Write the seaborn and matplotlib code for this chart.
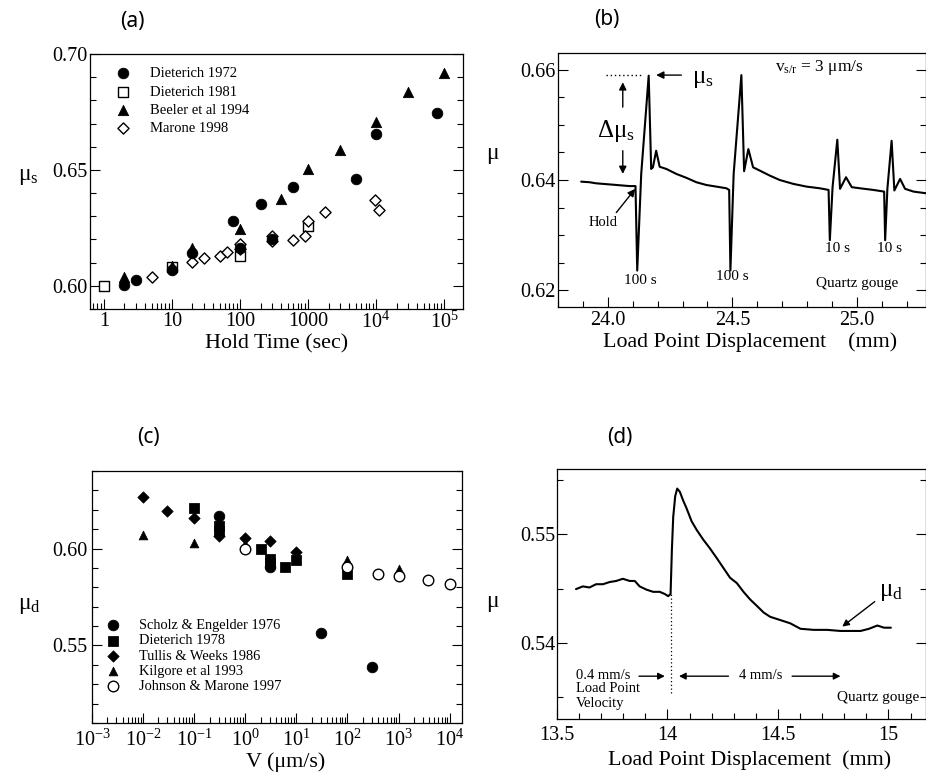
import matplotlib
matplotlib.use("Agg")
import matplotlib.pyplot as plt
import matplotlib.ticker as mticker
import seaborn as sns

# ---------------- data ----------------
# (a) static friction vs. hold time
hold_d72 = [2, 3, 10, 20, 80, 100, 200, 300, 600, 5000, 1e4, 8e4]
mus_d72 = [0.6004, 0.6026, 0.6070, 0.6141, 0.6278, 0.6163, 0.6354, 0.6202, 0.6426, 0.6462, 0.6657, 0.6745]
hold_d81 = [1, 10, 100, 1000]
mus_d81 = [0.6000, 0.6081, 0.6130, 0.6257]
hold_b94 = [2, 10, 20, 100, 400, 1000, 3000, 1e4, 3e4, 1e5]
mus_b94 = [0.6040, 0.6084, 0.6163, 0.6245, 0.6375, 0.6505, 0.6584, 0.6707, 0.6837, 0.6916]
hold_m98 = [5, 20, 30, 50, 65, 100, 100, 300, 300, 600, 900, 1000, 1800, 9500, 11000]
mus_m98 = [0.6040, 0.6101, 0.6120, 0.6130, 0.6144, 0.6182, 0.6159, 0.6216, 0.6192, 0.6199,
           0.6216, 0.6278, 0.6317, 0.6372, 0.6329]

# (b) slide-hold-slide friction record
disp_b = [23.893, 23.926, 23.953, 23.980, 24.007, 24.034, 24.060, 24.087, 24.111, 24.118,
          24.134, 24.164, 24.174, 24.181, 24.194, 24.208, 24.235, 24.275, 24.315, 24.355,
          24.395, 24.436, 24.476, 24.487, 24.492, 24.505, 24.536, 24.547, 24.564, 24.583,
          24.610, 24.650, 24.690, 24.744, 24.798, 24.851, 24.886, 24.891, 24.902, 24.921,
          24.932, 24.956, 24.979, 25.012, 25.066, 25.109, 25.113, 25.122, 25.139, 25.150,
          25.173, 25.193, 25.227, 25.277]
mu_b = [0.6397, 0.6396, 0.6394, 0.6393, 0.6392, 0.6391, 0.6390, 0.6389, 0.6389, 0.6236,
        0.6411, 0.6589, 0.6420, 0.6423, 0.6453, 0.6424, 0.6420, 0.6411, 0.6404, 0.6396,
        0.6391, 0.6388, 0.6385, 0.6382, 0.6236, 0.6411, 0.6590, 0.6416, 0.6456, 0.6423,
        0.6417, 0.6408, 0.6400, 0.6393, 0.6388, 0.6385, 0.6382, 0.6291, 0.6387, 0.6473,
        0.6384, 0.6405, 0.6387, 0.6385, 0.6382, 0.6379, 0.6291, 0.6384, 0.6471, 0.6381,
        0.6402, 0.6384, 0.6379, 0.6376]

# (c) dynamic friction vs. slip velocity
v_se76 = [0.3, 3, 30, 300]
mud_se76 = [0.6167, 0.5905, 0.5564, 0.5391]
v_d78 = [0.1, 0.3, 0.3, 2, 3, 3, 6, 10, 100]
mud_d78 = [0.6210, 0.6116, 0.6090, 0.6000, 0.5948, 0.5926, 0.5905, 0.5943, 0.5871]
v_tw86 = [0.01, 0.03, 0.1, 0.3, 1, 3, 10]
mud_tw86 = [0.6267, 0.6193, 0.6155, 0.6064, 0.6055, 0.6040, 0.5983]
v_k93 = [0.01, 0.1, 1, 100, 1000]
mud_k93 = [0.6069, 0.6026, 0.6022, 0.5940, 0.5897]
v_jm97 = [1, 100, 400, 1000, 3800, 1e4]
mud_jm97 = [0.5997, 0.5905, 0.5867, 0.5859, 0.5836, 0.5819]

# (d) velocity-step friction record
disp_d = [13.586, 13.617, 13.647, 13.677, 13.708, 13.738, 13.768, 13.798, 13.829, 13.852,
          13.874, 13.905, 13.935, 13.965, 13.988, 14.003, 14.014, 14.020, 14.026, 14.035,
          14.044, 14.056, 14.071, 14.086, 14.109, 14.132, 14.162, 14.192, 14.223, 14.253,
          14.283, 14.314, 14.344, 14.374, 14.405, 14.435, 14.465, 14.511, 14.556, 14.602,
          14.662, 14.723, 14.783, 14.829, 14.874, 14.912, 14.950, 14.980, 15.011]
mu_d = [0.54495, 0.5452, 0.5451, 0.5454, 0.5454, 0.5456, 0.5457, 0.5459, 0.5457, 0.5457,
        0.5452, 0.5449, 0.5447, 0.5447, 0.5445, 0.5443, 0.5445, 0.5486, 0.5516, 0.5535,
        0.5542, 0.5539, 0.5531, 0.5524, 0.5512, 0.5504, 0.5495, 0.5487, 0.5478, 0.5469,
        0.5460, 0.5455, 0.5447, 0.5440, 0.5434, 0.5428, 0.5424, 0.5421, 0.5418, 0.5413,
        0.5412, 0.5412, 0.5411, 0.5411, 0.5411, 0.5413, 0.5416, 0.5414, 0.5414]
step_disp = 14.015

hold_ticks = [1, 10, 100, 1000, 1e4, 1e5]
hold_ticklabels = ["1", "10", "100", "1000", "10$^{4}$", "10$^{5}$"]
v_ticks = [1e-3, 1e-2, 1e-1, 1, 10, 100, 1e3, 1e4]
v_ticklabels = ["10$^{-3}$", "10$^{-2}$", "10$^{-1}$", "10$^{0}$", "10$^{1}$",
                "10$^{2}$", "10$^{3}$", "10$^{4}$"]

# ---------------- style ----------------
sns.set_theme(style="ticks")
plt.rcParams.update({
    "font.family": ["Liberation Serif", "DejaVu Serif"],
    "mathtext.fontset": "custom",
    "mathtext.rm": "Liberation Serif",
    "mathtext.it": "Liberation Serif:italic",
    "mathtext.bf": "Liberation Serif:bold",
    "axes.edgecolor": "black",
    "axes.linewidth": 0.9,
    "text.color": "black",
    "axes.labelcolor": "black",
    "xtick.color": "black",
    "ytick.color": "black",
})

W, H = 926, 773
fig = plt.figure(figsize=(W / 100, H / 100), dpi=100)
fig.patch.set_facecolor("white")


def rect(l, t, r, b):
    return [l / W, 1 - b / H, (r - l) / W, (b - t) / H]


def style_axes(ax, xpad, ypad):
    ax.tick_params(which="both", direction="in", left=True, bottom=True, right=True,
                   top=False, labelsize=14.5, width=0.8)
    ax.tick_params(which="major", length=7)
    ax.tick_params(which="minor", length=4)
    ax.tick_params(axis="x", pad=xpad)
    ax.tick_params(axis="y", pad=ypad)


def set_labels(ax, xlabel, xpos, ylabel, ypos, xsize=15.8, ysize=17):
    ax.set_xlabel(xlabel, fontsize=xsize, va="center")
    ax.xaxis.set_label_coords(*xpos)
    ax.set_ylabel(ylabel, fontsize=ysize, rotation=0, va="center", ha="center")
    ax.yaxis.set_label_coords(*ypos)


panel_font = dict(family=["Noto Sans", "DejaVu Sans"], fontsize=15, ha="center", va="center")

# ---------------- (a) ----------------
ax_a = fig.add_axes(rect(90, 54, 463, 309))
sns.scatterplot(x=hold_d72, y=mus_d72, marker="o", color="black", edgecolor="black",
                s=58, label="Dieterich 1972", ax=ax_a, zorder=4)
sns.scatterplot(x=hold_d81, y=mus_d81, marker="s", color="white", edgecolor="black",
                linewidth=1.0, s=48, label="Dieterich 1981", ax=ax_a, zorder=3)
sns.scatterplot(x=hold_b94, y=mus_b94, marker="^", color="black", edgecolor="black",
                s=55, label="Beeler et al 1994", ax=ax_a, zorder=4)
sns.scatterplot(x=hold_m98, y=mus_m98, marker="D", color="white", edgecolor="black",
                linewidth=1.0, s=32, label="Marone 1998", ax=ax_a, zorder=3)
ax_a.set_xscale("log")
ax_a.set_xlim(0.622, 1.9e5)
ax_a.set_ylim(0.59, 0.70)
ax_a.xaxis.set_major_locator(mticker.FixedLocator(hold_ticks))
ax_a.xaxis.set_major_formatter(mticker.FixedFormatter(hold_ticklabels))
ax_a.xaxis.set_minor_locator(mticker.LogLocator(base=10, subs=range(2, 10), numticks=20))
ax_a.xaxis.set_minor_formatter(mticker.NullFormatter())
ax_a.yaxis.set_major_locator(mticker.FixedLocator([0.60, 0.65, 0.70]))
ax_a.yaxis.set_major_formatter(mticker.FormatStrFormatter("%.2f"))
ax_a.yaxis.set_minor_locator(mticker.MultipleLocator(0.01))
style_axes(ax_a, 2, 2)
ax_a.legend(loc="upper left", bbox_to_anchor=(0.069, 0.949), frameon=False, fontsize=10.5,
            borderpad=0, borderaxespad=0, handlelength=1.0, handletextpad=1.35,
            labelspacing=0.35)
set_labels(ax_a, "Hold Time (sec)", (0.5, -0.135),
           r"$\mathrm{\mu}_{\mathrm{s}}$", (-0.166, 0.52))
fig.text(132 / W, 1 - 22 / H, "(a)", **panel_font)

# ---------------- (b) ----------------
ax_b = fig.add_axes(rect(558, 53, 926, 307))
sns.lineplot(x=disp_b, y=mu_b, sort=False, estimator=None, color="black", lw=1.5, ax=ax_b)
ax_b.set_xlim(23.80, 25.277)
ax_b.set_ylim(0.617, 0.663)
ax_b.xaxis.set_major_locator(mticker.MultipleLocator(0.5))
ax_b.xaxis.set_major_formatter(mticker.FormatStrFormatter("%.1f"))
ax_b.xaxis.set_minor_locator(mticker.MultipleLocator(0.1))
ax_b.yaxis.set_major_locator(mticker.MultipleLocator(0.02))
ax_b.yaxis.set_major_formatter(mticker.FormatStrFormatter("%.2f"))
ax_b.yaxis.set_minor_locator(mticker.MultipleLocator(0.005))
style_axes(ax_b, 3, 2)
set_labels(ax_b, "Load Point Displacement    (mm)", (0.522, -0.138),
           r"$\mathrm{\mu}$", (-0.177, 0.598))
peak_b = max(mu_b)
ax_b.hlines(peak_b, 23.993, 24.134, colors="black", linestyles=(0, (1, 2)), lw=1.0)
arrow = dict(arrowstyle="-|>", color="black", lw=1.0, mutation_scale=11, shrinkA=0, shrinkB=0)
ax_b.annotate("", xy=(24.194, peak_b), xytext=(24.295, peak_b), arrowprops=arrow)
ax_b.text(24.339, 0.6583, r"$\mathrm{\mu}_{\mathrm{s}}$", fontsize=18, ha="left", va="center")
ax_b.annotate("", xy=(24.060, 0.6577), xytext=(24.060, 0.6532), arrowprops=arrow)
ax_b.annotate("", xy=(24.060, 0.6411), xytext=(24.060, 0.6453), arrowprops=arrow)
ax_b.text(24.034, 0.6489, r"$\Delta\mathrm{\mu}_{\mathrm{s}}$", fontsize=18, ha="center", va="center")
ax_b.annotate("", xy=(24.110, 0.6384), xytext=(24.034, 0.6341), arrowprops=arrow)
ax_b.text(23.983, 0.6323, "Hold", fontsize=10.5, ha="center", va="center")
for xx, yy, tt in [(24.131, 0.6218, "100 s"), (24.500, 0.6226, "100 s"),
                   (24.922, 0.6276, "10 s"), (25.130, 0.6276, "10 s")]:
    ax_b.text(xx, yy, tt, fontsize=11, ha="center", va="center")
ax_b.text(25.0, 0.6212, "Quartz gouge", fontsize=11, ha="center", va="center")
ax_b.text(24.849, 0.6604, r"$\mathrm{v}_{\mathrm{s/r}}$ = 3 μm/s", fontsize=12.5,
          ha="center", va="center")
fig.text(607 / W, 1 - 20 / H, "(b)", **panel_font)

# ---------------- (c) ----------------
ax_c = fig.add_axes(rect(92, 471, 462, 723))
sns.scatterplot(x=v_se76, y=mud_se76, marker="o", color="black", edgecolor="black",
                s=58, label="Scholz & Engelder 1976", ax=ax_c, zorder=3)
sns.scatterplot(x=v_d78, y=mud_d78, marker="s", color="black", edgecolor="black",
                s=48, label="Dieterich 1978", ax=ax_c, zorder=3)
sns.scatterplot(x=v_tw86, y=mud_tw86, marker="D", color="black", edgecolor="black",
                s=34, label="Tullis & Weeks 1986", ax=ax_c, zorder=3)
sns.scatterplot(x=v_k93, y=mud_k93, marker="^", color="black", edgecolor="black",
                s=40, label="Kilgore et al 1993", ax=ax_c, zorder=3)
sns.scatterplot(x=v_jm97, y=mud_jm97, marker="o", color="white", edgecolor="black",
                linewidth=1.0, s=58, label="Johnson & Marone 1997", ax=ax_c, zorder=4)
ax_c.set_xscale("log")
ax_c.set_xlim(1e-3, 1.75e4)
ax_c.set_ylim(0.51, 0.64)
ax_c.xaxis.set_major_locator(mticker.FixedLocator(v_ticks))
ax_c.xaxis.set_major_formatter(mticker.FixedFormatter(v_ticklabels))
ax_c.xaxis.set_minor_locator(mticker.LogLocator(base=10, subs=range(2, 10), numticks=20))
ax_c.xaxis.set_minor_formatter(mticker.NullFormatter())
ax_c.yaxis.set_major_locator(mticker.FixedLocator([0.55, 0.60]))
ax_c.yaxis.set_major_formatter(mticker.FormatStrFormatter("%.2f"))
ax_c.yaxis.set_minor_locator(mticker.MultipleLocator(0.01))
style_axes(ax_c, 5, 3)
ax_c.legend(loc="upper left", bbox_to_anchor=(0.037, 0.413), frameon=False, fontsize=10.4,
            borderpad=0, borderaxespad=0, handlelength=1.0, handletextpad=1.3,
            labelspacing=0.15)
set_labels(ax_c, "V (μm/s)", (0.524, -0.155),
           r"$\mathrm{\mu}_{\mathrm{d}}$", (-0.170, 0.468))
fig.text(148 / W, 1 - 438 / H, "(c)", **panel_font)

# ---------------- (d) ----------------
ax_d = fig.add_axes(rect(557, 469, 926, 719))
sns.lineplot(x=disp_d, y=mu_d, sort=False, estimator=None, color="black", lw=1.5, ax=ax_d)
ax_d.set_xlim(13.5, 15.17)
ax_d.set_ylim(0.533, 0.556)
ax_d.xaxis.set_major_locator(mticker.FixedLocator([13.5, 14, 14.5, 15]))
ax_d.xaxis.set_major_formatter(mticker.FixedFormatter(["13.5", "14", "14.5", "15"]))
ax_d.xaxis.set_minor_locator(mticker.MultipleLocator(0.1))
ax_d.yaxis.set_major_locator(mticker.MultipleLocator(0.01))
ax_d.yaxis.set_major_formatter(mticker.FormatStrFormatter("%.2f"))
ax_d.yaxis.set_minor_locator(mticker.MultipleLocator(0.005))
style_axes(ax_d, 5, 1)
set_labels(ax_d, "Load Point Displacement  (mm)", (0.523, -0.164),
           r"$\mathrm{\mu}$", (-0.173, 0.464))
step_mu = mu_d[disp_d.index(14.014)]
ax_d.vlines(step_disp, 0.5354, step_mu, colors="black", linestyles=(0, (1, 2)), lw=0.9)
arrow_d = dict(arrowstyle="-|>", color="black", lw=1.0, mutation_scale=10, shrinkA=0, shrinkB=0)
ax_d.text(13.586, 0.5370, "0.4 mm/s", fontsize=10.5, ha="left", va="center")
ax_d.text(13.586, 0.5358, "Load Point", fontsize=10.5, ha="left", va="center")
ax_d.text(13.586, 0.5344, "Velocity", fontsize=10.5, ha="left", va="center")
ax_d.annotate("", xy=(13.988, 0.53694), xytext=(13.871, 0.53694), arrowprops=arrow_d)
ax_d.text(14.424, 0.5370, "4 mm/s", fontsize=10.5, ha="center", va="center")
ax_d.annotate("", xy=(14.052, 0.53694), xytext=(14.276, 0.53694), arrowprops=arrow_d)
ax_d.annotate("", xy=(14.783, 0.53694), xytext=(14.564, 0.53694), arrowprops=arrow_d)
ax_d.text(14.953, 0.5350, "Quartz gouge", fontsize=11, ha="center", va="center")
ax_d.text(14.958, 0.5447, r"$\mathrm{\mu}_{\mathrm{d}}$", fontsize=18, ha="left", va="center")
ax_d.annotate("", xy=(14.791, 0.5415), xytext=(14.938, 0.5438), arrowprops=arrow_d)
fig.text(620 / W, 1 - 438 / H, "(d)", **panel_font)

fig.savefig("out.png", dpi=100, facecolor="white")
